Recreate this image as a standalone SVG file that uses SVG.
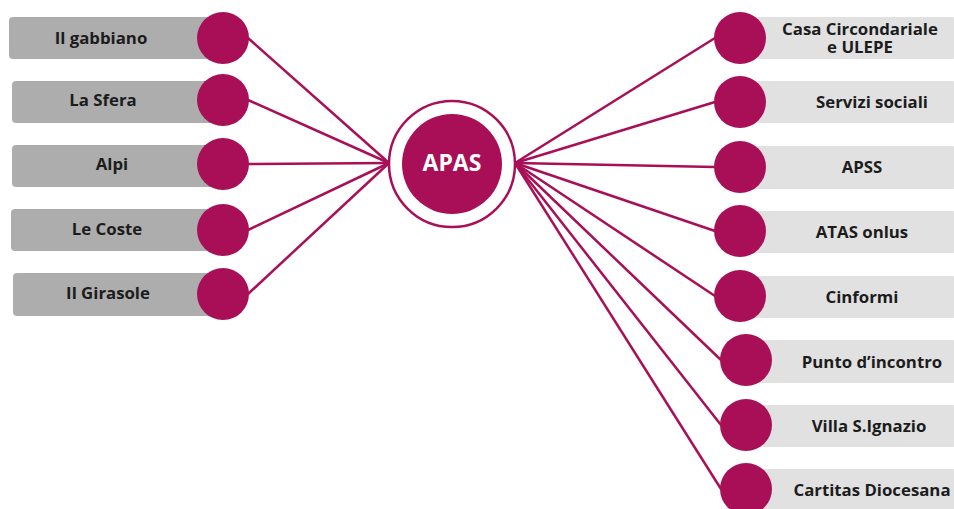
<svg xmlns="http://www.w3.org/2000/svg" width="954" height="509" viewBox="0 0 954 509">
<style>
.lb{fill:#adadad}
.rb{fill:#e1e1e1}
.dot{fill:#a90f57}
.t{font-family:"Open Sans","Liberation Sans",sans-serif;font-weight:700;font-size:16.8px;fill:#1c1c1c;text-anchor:middle}
.c{stroke:#a90f57;stroke-width:2.5;fill:none}
</style>
<rect width="954" height="509" fill="#fff"/>
<g id="connectors">
<line class="c" x1="248" y1="38" x2="389" y2="163"/>
<line class="c" x1="248" y1="100" x2="389" y2="163"/>
<line class="c" x1="248" y1="164" x2="389" y2="163"/>
<line class="c" x1="248" y1="230" x2="389" y2="163"/>
<line class="c" x1="248" y1="294" x2="389" y2="163"/>
<line class="c" x1="515" y1="163" x2="715" y2="38"/>
<line class="c" x1="515" y1="163" x2="715" y2="102"/>
<line class="c" x1="515" y1="163" x2="715" y2="167"/>
<line class="c" x1="515" y1="163" x2="715" y2="231"/>
<line class="c" x1="515" y1="163" x2="715" y2="296"/>
<line class="c" x1="515" y1="163" x2="721" y2="360"/>
<line class="c" x1="515" y1="163" x2="721" y2="425"/>
<line class="c" x1="515" y1="163" x2="721" y2="489"/>
</g>
<g id="apas">
<circle cx="452" cy="164" r="63" fill="#fff" stroke="#a90f57" stroke-width="2.5"/>
<circle cx="452" cy="164" r="50" class="dot"/>
<text x="452" y="171" style="font-family:'Open Sans','Liberation Sans',sans-serif;font-weight:700;font-size:23px;fill:#fff;text-anchor:middle">APAS</text>
</g>
<g id="il-gabbiano"><rect class="lb" x="9" y="17" width="215" height="42" rx="4"/><circle class="dot" cx="223" cy="38" r="26"/><text class="t" x="101" y="44">Il gabbiano</text></g>
<g id="la-sfera"><rect class="lb" x="12" y="81" width="212" height="42" rx="4"/><circle class="dot" cx="223" cy="100" r="26"/><text class="t" x="103" y="106">La Sfera</text></g>
<g id="alpi"><rect class="lb" x="12" y="145" width="212" height="42" rx="4"/><circle class="dot" cx="223" cy="164" r="26"/><text class="t" x="112" y="170">Alpi</text></g>
<g id="le-coste"><rect class="lb" x="11" y="209" width="213" height="42" rx="4"/><circle class="dot" cx="223" cy="230" r="26"/><text class="t" x="107" y="235">Le Coste</text></g>
<g id="il-girasole"><rect class="lb" x="13" y="273" width="211" height="43" rx="4"/><circle class="dot" cx="223" cy="294" r="26"/><text class="t" x="108" y="299">Il Girasole</text></g>
<g id="casa-circondariale"><rect class="rb" x="740" y="17" width="216" height="42" rx="4"/><circle class="dot" cx="740" cy="38" r="26"/><text class="t" x="860" y="35">Casa Circondariale</text><text class="t" x="860" y="53">e ULEPE</text></g>
<g id="servizi-sociali"><rect class="rb" x="740" y="81" width="216" height="42" rx="4"/><circle class="dot" cx="740" cy="102" r="26"/><text class="t" x="872" y="108">Servizi sociali</text></g>
<g id="apss"><rect class="rb" x="740" y="146" width="216" height="43" rx="4"/><circle class="dot" cx="740" cy="167" r="26"/><text class="t" x="862" y="173">APSS</text></g>
<g id="atas-onlus"><rect class="rb" x="740" y="211" width="216" height="42" rx="4"/><circle class="dot" cx="740" cy="231" r="26"/><text class="t" x="862" y="238">ATAS onlus</text></g>
<g id="cinformi"><rect class="rb" x="740" y="276" width="216" height="42" rx="4"/><circle class="dot" cx="740" cy="296" r="26"/><text class="t" x="862" y="303">Cinformi</text></g>
<g id="punto-dincontro"><rect class="rb" x="746" y="340" width="210" height="43" rx="4"/><circle class="dot" cx="746" cy="360" r="26"/><text class="t" x="872" y="368">Punto d’incontro</text></g>
<g id="villa-signazio"><rect class="rb" x="746" y="405" width="210" height="42" rx="4"/><circle class="dot" cx="746" cy="425" r="26"/><text class="t" x="869" y="432">Villa S.Ignazio</text></g>
<g id="caritas-diocesana"><rect class="rb" x="746" y="469" width="210" height="42" rx="4"/><circle class="dot" cx="746" cy="489" r="26"/><text class="t" x="872" y="496">Cartitas Diocesana</text></g>
</svg>
